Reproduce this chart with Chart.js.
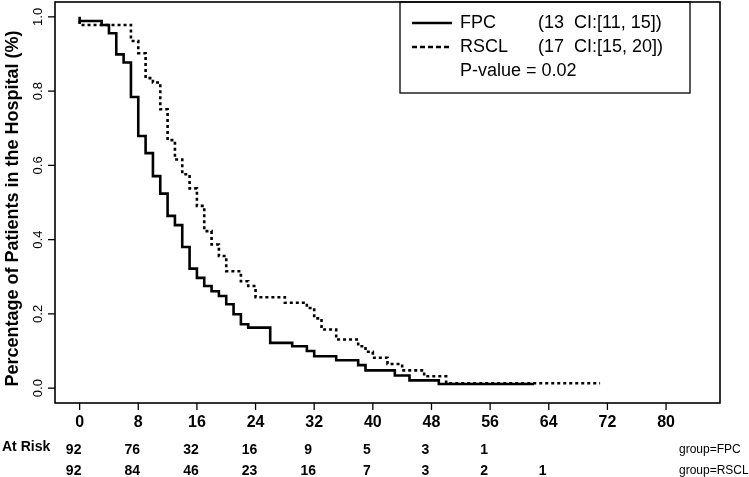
<!DOCTYPE html>
<html>
<head>
<meta charset="utf-8">
<script src="https://cdn.jsdelivr.net/npm/chart.js@4.4.0/dist/chart.umd.min.js"></script>
<style>
  html, body { margin: 0; padding: 0; background: #fff; }
  #wrap { width: 749px; height: 477px; }
</style>
</head>
<body>
<div id="wrap"><canvas id="kmChart" width="749" height="477"></canvas></div>
<script>
// Kaplan-Meier: FPC group (days, fraction still in hospital)
const fpcTime = [0, 3, 4, 5, 6, 7, 8, 9, 10, 11, 12, 13, 14, 15, 16, 17, 18, 19, 20, 21, 22, 23, 26, 29, 31, 32, 35, 38, 39, 43, 45, 49, 51, 62];
const fpcSurv = [1.0, 0.989, 0.978, 0.956, 0.899, 0.877, 0.784, 0.679, 0.633, 0.571, 0.524, 0.464, 0.439, 0.380, 0.322, 0.297, 0.275, 0.261, 0.248, 0.226, 0.199, 0.172, 0.163, 0.122, 0.113, 0.100, 0.086, 0.075, 0.062, 0.048, 0.034, 0.021, 0.011, 0.011];

// Kaplan-Meier: RSCL group
const rsclTime = [0, 7, 8, 9, 10, 11, 12, 13, 14, 15, 16, 17, 18, 19, 20, 22, 23, 24, 28, 31, 32, 33, 35, 38, 39, 40, 42, 44, 47, 50, 58, 71];
const rsclSurv = [0.989, 0.978, 0.935, 0.902, 0.835, 0.823, 0.751, 0.668, 0.616, 0.576, 0.538, 0.491, 0.423, 0.387, 0.356, 0.315, 0.288, 0.275, 0.245, 0.230, 0.216, 0.188, 0.158, 0.131, 0.113, 0.098, 0.082, 0.065, 0.048, 0.032, 0.013, 0.013];

// axis ticks
const xTicks = [0, 8, 16, 24, 32, 40, 48, 56, 64, 72, 80];
const yTicks = [0, 0.2, 0.4, 0.6, 0.8, 1.0];
const yTickLabels = ['0.0', '0.2', '0.4', '0.6', '0.8', '1.0'];
const yTitle = 'Percentage of Patients in the Hospital (%)';

// number at risk table
const riskTimes = [0, 8, 16, 24, 32, 40, 48, 56, 64];
const riskFPC = [92, 76, 32, 16, 9, 5, 3, 1, null];
const riskRSCL = [92, 84, 46, 23, 16, 7, 3, 2, 1];
const riskTitle = 'At Risk';
const groupLabels = ['group=FPC', 'group=RSCL'];

// legend texts
const legendNames = ['FPC', 'RSCL'];
const legendCI = ['(13  CI:[11, 15])', '(17  CI:[15, 20])'];
const pValueText = 'P-value = 0.02';

const toPoints = (t, s) => t.map((v, i) => ({ x: v, y: s[i] }));

// Gambar sumbu, kotak, legenda dan tabel at-risk ala plot R
const kmDecor = {
    id: 'kmDecor',
    afterDraw(chart) {
        const ctx = chart.ctx;
        const area = chart.chartArea;
        const xs = chart.scales.x;
        const ys = chart.scales.y;
        ctx.save();
        ctx.strokeStyle = '#000';
        ctx.fillStyle = '#000';

        // kotak plot
        ctx.lineWidth = 1.6;
        ctx.strokeRect(area.left, area.top, area.right - area.left, area.bottom - area.top);

        // sumbu x
        ctx.lineWidth = 1.3;
        ctx.font = 'bold 16px "Liberation Sans Narrow", "Liberation Sans", sans-serif';
        ctx.textAlign = 'center';
        ctx.textBaseline = 'middle';
        xTicks.forEach(v => {
            const px = xs.getPixelForValue(v);
            ctx.beginPath();
            ctx.moveTo(px, area.bottom);
            ctx.lineTo(px, area.bottom + 7);
            ctx.stroke();
            ctx.fillText(String(v), px, area.bottom + 20);
        });

        // sumbu y (label diputar)
        ctx.font = '13px "Liberation Sans", Arial, sans-serif';
        yTicks.forEach((v, i) => {
            const py = ys.getPixelForValue(v);
            ctx.beginPath();
            ctx.moveTo(area.left - 7, py);
            ctx.lineTo(area.left, py);
            ctx.stroke();
            ctx.save();
            ctx.translate(area.left - 17, py);
            ctx.rotate(-Math.PI / 2);
            ctx.fillText(yTickLabels[i], 0, 0);
            ctx.restore();
        });

        // judul sumbu y
        ctx.save();
        ctx.font = 'bold 18px "Liberation Sans", Arial, sans-serif';
        ctx.translate(13, (area.top + area.bottom) / 2 + 6);
        ctx.rotate(-Math.PI / 2);
        ctx.fillText(yTitle, 0, 0);
        ctx.restore();

        // legenda
        const lgLeft = 400, lgRight = 690, lgTop = area.top, lgBottom = 93;
        ctx.lineWidth = 1.3;
        ctx.strokeRect(lgLeft, lgTop, lgRight - lgLeft, lgBottom - lgTop);
        const rowY = [23, 47, 71];
        ctx.font = '18px "Liberation Sans", Arial, sans-serif';
        ctx.textAlign = 'left';
        legendNames.forEach((name, i) => {
            const ds = chart.data.datasets[i];
            ctx.save();
            ctx.lineWidth = ds.borderWidth;
            ctx.setLineDash(i === 1 ? [5, 3] : []);
            ctx.beginPath();
            ctx.moveTo(412, rowY[i]);
            ctx.lineTo(452, rowY[i]);
            ctx.stroke();
            ctx.restore();
            ctx.fillText(name, 460, rowY[i]);
            ctx.fillText(legendCI[i], 538, rowY[i]);
        });
        ctx.fillText(pValueText, 460, rowY[2]);

        // tabel at risk
        const r1 = 450, r2 = 471;
        ctx.font = 'bold 14px "Liberation Sans Narrow", "Liberation Sans", sans-serif';
        ctx.fillText(riskTitle, 2, r1 - 3);
        ctx.textAlign = 'center';
        riskTimes.forEach((t, i) => {
            const px = xs.getPixelForValue(t) - 6;
            if (riskFPC[i] !== null) ctx.fillText(String(riskFPC[i]), px, r1);
            if (riskRSCL[i] !== null) ctx.fillText(String(riskRSCL[i]), px, r2);
        });
        ctx.textAlign = 'left';
        ctx.font = '12px "Liberation Sans Narrow", "Liberation Sans", sans-serif';
        ctx.fillText(groupLabels[0], 679, r1);
        ctx.fillText(groupLabels[1], 679, r2);
        ctx.restore();
    }
};

new Chart(document.getElementById('kmChart'), {
    type: 'line',
    data: {
        datasets: [
            {
                label: 'FPC',
                data: toPoints(fpcTime, fpcSurv),
                borderColor: '#000',
                borderWidth: 2.6,
                stepped: 'after',
                pointRadius: 0,
                fill: false
            },
            {
                label: 'RSCL',
                data: toPoints(rsclTime, rsclSurv),
                borderColor: '#000',
                borderWidth: 2.6,
                borderDash: [3, 3],
                stepped: 'after',
                pointRadius: 0,
                fill: false
            }
        ]
    },
    options: {
        responsive: false,
        animation: false,
        layout: { padding: { left: 55, right: 29, top: 2, bottom: 74 } },
        scales: {
            x: { type: 'linear', min: -3.36, max: 87.36, display: false },
            y: { type: 'linear', min: -0.04, max: 1.04, display: false }
        },
        plugins: {
            legend: { display: false },
            tooltip: { enabled: false }
        }
    },
    plugins: [kmDecor]
});
</script>
</body>
</html>
